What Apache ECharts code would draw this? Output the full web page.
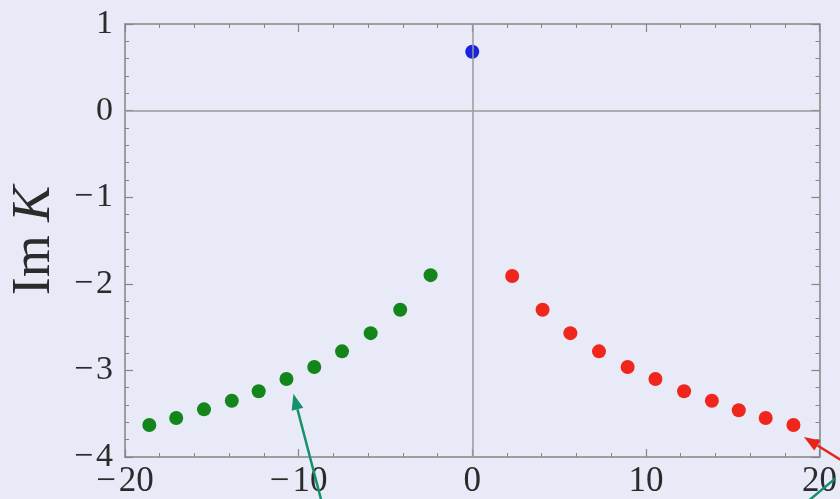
<!DOCTYPE html>
<html>
<head>
<meta charset="utf-8">
<script src="https://cdn.jsdelivr.net/npm/echarts@6/dist/echarts.min.js"></script>
<style>
  html, body { margin: 0; padding: 0; background: #e8eaf7; }
  #chart { width: 840px; height: 499px; }
</style>
</head>
<body>
<div id="chart"></div>
<script>
// poles in the complex K plane
const greenX = [-18.6, -17.05, -15.45, -13.85, -12.3, -10.7, -9.1, -7.5, -5.85, -4.15, -2.4]
const greenY = [-3.63, -3.55, -3.45, -3.35, -3.24, -3.10, -2.96, -2.78, -2.57, -2.30, -1.90]
const redX = [2.3, 4.05, 5.65, 7.3, 8.95, 10.55, 12.2, 13.8, 15.35, 16.9, 18.5]
const redY = [-1.91, -2.30, -2.57, -2.78, -2.96, -3.10, -3.24, -3.35, -3.46, -3.55, -3.63]
const blueX = [0]
const blueY = [0.68]

const xTicks = [-20, -10, 0, 10, 20]
const yTicks = [-4, -3, -2, -1, 0, 1]

// annotation arrows [tail, tip] in data coords
const greenArrow = [[-8.5, -4.65], [-10.3, -3.27]]
const redArrow = [[21.2, -4.03], [19.1, -3.77]]
const greenStroke = [[20.9, -4.25], [19.4, -4.5]]

const FONT = '"Liberation Serif", "DejaVu Serif", serif'
const fmt = v => (v < 0 ? '\u2212\u200a' + Math.abs(v) : String(v))

const zip = (xs, ys) => xs.map((x, i) => [x, ys[i]])

const chart = echarts.init(document.getElementById('chart'))

const axisBase = {
  type: 'value',
  axisLine: { show: true, onZero: false, lineStyle: { color: '#858585', width: 1.5 } },
  axisTick: { show: true, inside: true, length: 8, lineStyle: { color: '#858585', width: 1.2 } },
  minorTick: { show: true, splitNumber: 5, length: 4, lineStyle: { color: '#858585', width: 1 } },
  splitLine: { show: false },
  minorSplitLine: { show: false }
}

chart.setOption({
  backgroundColor: '#e8eaf7',
  animation: false,
  grid: { left: 124, right: 14, top: 24, bottom: 42, containLabel: false },
  xAxis: [
    {
      ...axisBase,
      min: -20, max: 20, interval: 10,
      position: 'bottom',
      axisLabel: {
        margin: 7,
        fontFamily: FONT, fontSize: 35, color: '#2b2b2b',
        formatter: v => xTicks.includes(v) ? fmt(v) : ''
      }
    },
    {
      ...axisBase,
      min: -20, max: 20, interval: 10,
      position: 'top',
      axisLabel: { show: false }
    }
  ],
  yAxis: [
    {
      ...axisBase,
      min: -4, max: 1, interval: 1,
      position: 'left',
      axisLabel: {
        margin: 12,
        fontFamily: FONT, fontSize: 34, color: '#2b2b2b',
        formatter: v => yTicks.includes(v) ? fmt(v) : ''
      },
      name: '{a|Im }{b|K}',
      nameLocation: 'middle',
      nameRotate: 90,
      nameGap: 63,
      nameTextStyle: {
        rich: {
          a: { fontFamily: FONT, fontSize: 54, color: '#2b2b2b' },
          b: { fontFamily: FONT, fontSize: 54, fontStyle: 'italic', color: '#2b2b2b' }
        }
      }
    },
    {
      ...axisBase,
      min: -4, max: 1, interval: 1,
      position: 'right',
      axisLabel: { show: false }
    }
  ],
  series: [
    {
      name: 'left',
      type: 'scatter',
      symbolSize: 14,
      itemStyle: { color: '#12861a', opacity: 1 },
      data: zip(greenX, greenY)
    },
    {
      name: 'right',
      type: 'scatter',
      symbolSize: 14,
      itemStyle: { color: '#f0261c', opacity: 1 },
      data: zip(redX, redY)
    },
    {
      name: 'bound',
      type: 'scatter',
      symbolSize: 14,
      itemStyle: { color: '#1a22e0', opacity: 1 },
      data: zip(blueX, blueY),
      markLine: {
        silent: true,
        symbol: 'none',
        label: { show: false },
        lineStyle: { color: '#9a9a9a', width: 1.5, type: 'solid' },
        data: [{ xAxis: 0 }, { yAxis: 0 }]
      },
      z: 1
    }
  ]
})

// arrows drawn as graphics placed from data coords
const toPx = p => chart.convertToPixel({ xAxisIndex: 0, yAxisIndex: 0 }, p)

function arrow(tail, tip, color, head) {
  const a = toPx(tail)
  const b = toPx(tip)
  const els = []
  const dx = b[0] - a[0], dy = b[1] - a[1]
  const len = Math.sqrt(dx * dx + dy * dy)
  const ux = dx / len, uy = dy / len
  let end = b
  if (head) {
    const hl = 16, hw = 6
    const bx = b[0] - ux * hl, by = b[1] - uy * hl
    end = [bx, by]
    els.push({
      type: 'polygon',
      shape: { points: [b, [bx - uy * hw, by + ux * hw], [bx + uy * hw, by - ux * hw]] },
      style: { fill: color },
      z: 100
    })
  }
  els.push({
    type: 'line',
    shape: { x1: a[0], y1: a[1], x2: end[0], y2: end[1] },
    style: { stroke: color, lineWidth: 2.5 },
    z: 100
  })
  return els
}

chart.setOption({
  graphic: [
    ...arrow(greenArrow[0], greenArrow[1], '#16906a', true),
    ...arrow(redArrow[0], redArrow[1], '#e8231b', true),
    ...arrow(greenStroke[0], greenStroke[1], '#16906a', false)
  ]
})
</script>
</body>
</html>
